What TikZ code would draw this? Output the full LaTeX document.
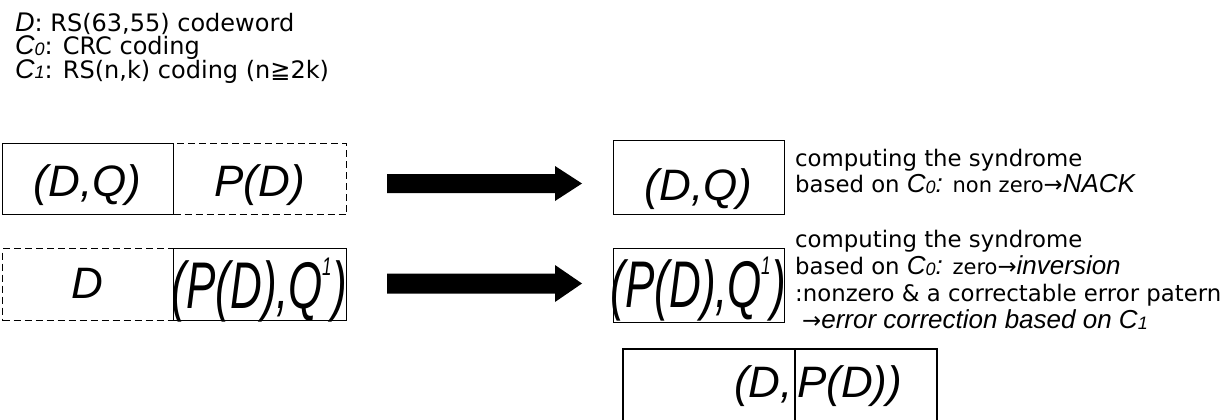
\documentclass[tikz,border=0pt]{standalone}
\usepackage{fontspec}
\usepackage{graphicx}
\setmainfont{DejaVu Sans}
\newfontfamily\arialf{Liberation Sans}
\newcommand\bigit{\arialf\itshape\fontsize{44}{44}\selectfont}
\newcommand\legfont{\fontsize{24}{24}\selectfont}
\newcommand\legit[1]{{\arialf\itshape\fontsize{27}{27}\selectfont #1}}
\newcommand\legsub[1]{\raisebox{-1pt}{\arialf\itshape\fontsize{18}{18}\selectfont #1}}
\newcommand\rtfont{\fontsize{22.8}{22.8}\selectfont}
\newcommand\rit[1]{{\arialf\itshape\fontsize{26}{26}\selectfont #1}}
\newcommand\rsub[1]{\raisebox{-1pt}{\arialf\itshape\fontsize{18}{18}\selectfont #1}}
\newcommand\supone{\kern-1pt\raisebox{0.5em}{\fontsize{17}{17}\selectfont 1}\kern1pt}
\begin{document}
\begin{tikzpicture}[x=1pt,y=-1pt,
  solidbox/.style={draw=black,line width=1.3pt,inner sep=0pt,anchor=north west},
  dashbox/.style={draw=black,line width=1pt,dash pattern=on 7pt off 4pt,inner sep=0pt,anchor=north west},
  boxtext/.style={inner sep=0pt,anchor=base,font=\bigit},
  legline/.style={inner sep=0pt,anchor=base west,font=\legfont},
  rtline/.style={inner sep=0pt,anchor=base west,font=\rtfont},
  bigarrow/.style={fill=black}
]
\useasboundingbox (0,0) rectangle (1227,420);

% legend
\node[legline] (l1) at (15,32) {\legit{D}: RS(63,55) codeword};
\node[legline] (l2) at (15,55) {\legit{C}\legsub{0}: CRC coding};
\node[legline] (l3) at (15,78) {\legit{C}\legsub{1}: RS(n,k) coding (n≧2k)};

% row 1 left
\node[dashbox,minimum width=173pt,minimum height=71pt] (b1r) at (173,143) {};
\node[solidbox,minimum width=171pt,minimum height=71pt] (b1l) at (2,143) {};
\node[boxtext] (t1l) at (87.5,196) {(D,Q)};
\node[boxtext] (t1r) at (259.5,196) {P(D)};

% row 2 left
\node[dashbox,minimum width=171pt,minimum height=72pt] (b2l) at (2,248) {};
\node[solidbox,minimum width=173pt,minimum height=72pt] (b2r) at (173,248) {};
\node[boxtext] (t2l) at (87.5,298) {D};
\node[boxtext] (t2r) at (259.5,308) {\scalebox{1}[1.5]{(P(D),Q\supone)}};

% arrows
\fill[bigarrow] (387,174) -- (555,174) -- (555,166) -- (582,183.5) -- (555,201) -- (555,193) -- (387,193) -- cycle;
\fill[bigarrow] (387,273.5) -- (555,273.5) -- (555,265) -- (582,283.5) -- (555,302) -- (555,293.5) -- (387,293.5) -- cycle;

% right boxes
\node[solidbox,minimum width=171pt,minimum height=74pt] (rb1) at (613,140) {};
\node[boxtext] (rt1) at (698.5,200) {(D,Q)};
\node[solidbox,minimum width=171pt,minimum height=74pt] (rb2) at (613,248) {};
\node[boxtext] (rt2) at (698.5,307) {\scalebox{1}[1.5]{(P(D),Q\supone)}};

% right texts
\node[rtline] (x1) at (795,166) {computing the syndrome};
\node[rtline] (x2) at (795,192) {based on \rit{C}\rsub{0}\rit{:} {\fontsize{21}{21}\selectfont non zero}→\rit{NACK}};
\node[rtline] (x3) at (795,247) {computing the syndrome};
\node[rtline] (x4) at (795,274) {based on \rit{C}\rsub{0}\rit{:} {\fontsize{21}{21}\selectfont zero}→\rit{inversion}};
\node[rtline] (x5) at (795,301) {:nonzero \& a correctable error patern};
\node[rtline] (x6) at (795,328) {\hspace{7pt}→\rit{error correction based on C}\rsub{1}};

% bottom box
\draw[line width=1.3pt] (623,422) |- (937,349) -- (937,422);
\draw[line width=1.3pt] (795,349) -- (795,422);
\node[inner sep=0pt,anchor=base east,font=\bigit] (b3l) at (793,397) {(D,};
\node[inner sep=0pt,anchor=base west,font=\bigit] (b3r) at (797,397) {P(D))};
\end{tikzpicture}
\end{document}
